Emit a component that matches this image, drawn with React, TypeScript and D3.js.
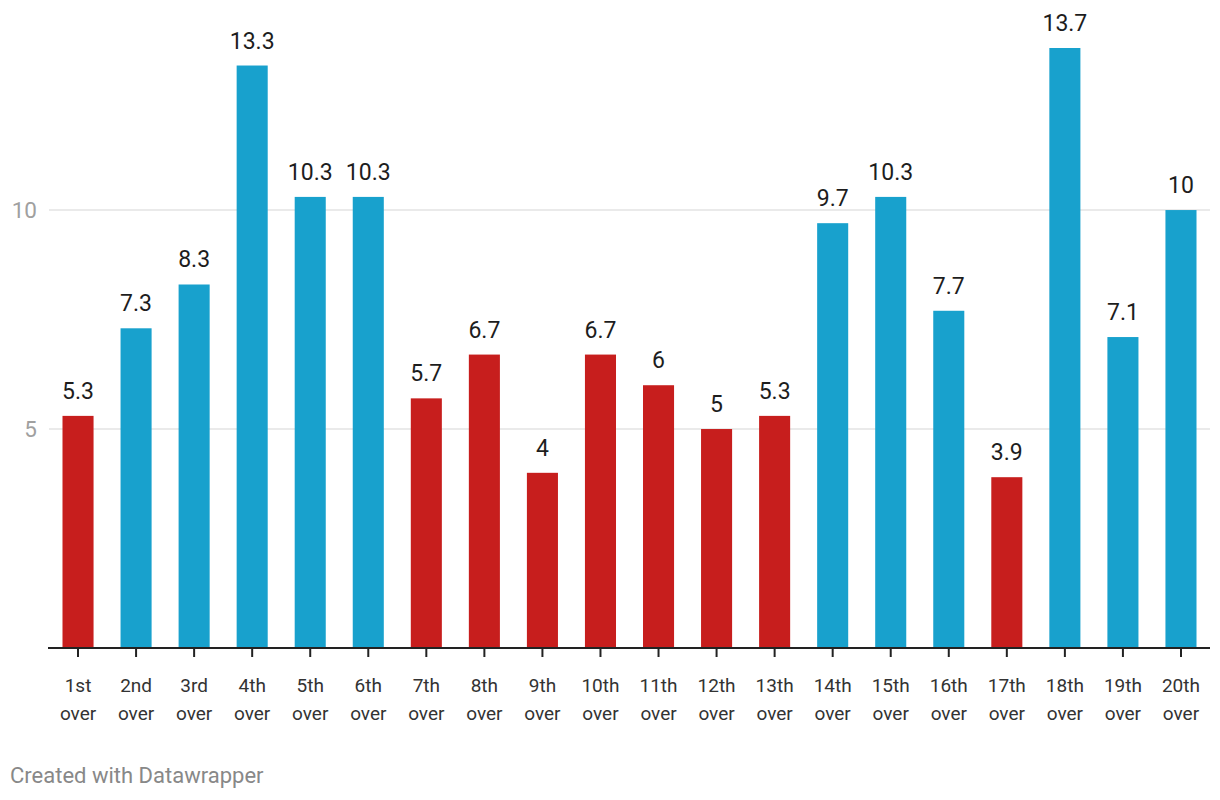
import React from "react";
import * as d3 from "d3";

const categories = ["1st", "2nd", "3rd", "4th", "5th", "6th", "7th", "8th", "9th", "10th", "11th", "12th", "13th", "14th", "15th", "16th", "17th", "18th", "19th", "20th"];
const values = [5.3, 7.3, 8.3, 13.3, 10.3, 10.3, 5.7, 6.7, 4, 6.7, 6, 5, 5.3, 9.7, 10.3, 7.7, 3.9, 13.7, 7.1, 10];
const groups = ["red", "blue", "blue", "blue", "blue", "blue", "red", "red", "red", "red", "red", "red", "red", "blue", "blue", "blue", "red", "blue", "blue", "blue"];
const yTicks = [5, 10];

const colors: Record<string, string> = { red: "#c71e1d", blue: "#18a1cd" };

export default function App() {
  const W = 1220, H = 800;
  const x = d3.scaleBand<string>().domain(categories).range([49, 1210]).paddingInner(0.465).paddingOuter(0.2325);
  const y = d3.scaleLinear().domain([0, 13.7]).range([648, 48]);
  const font = "Roboto, sans-serif";
  return (
    <svg width={W} height={H} style={{ position: "absolute", left: 0, top: 0, background: "#fff" }} fontFamily={font}>
      {yTicks.map((t) => (
        <g key={t}>
          <line x1={49} x2={1210} y1={y(t)} y2={y(t)} stroke="#e3e3e3" strokeWidth={1.5} />
          <text x={37} y={y(t)} dy="0.35em" textAnchor="end" fontSize={22.5} fill="#a0a0a0">{t}</text>
        </g>
      ))}
      {categories.map((c, i) => (
        <g key={c}>
          <rect x={x(c)} y={y(values[i])} width={x.bandwidth()} height={y(0) - y(values[i])} fill={colors[groups[i]]} />
          <text x={(x(c) as number) + x.bandwidth() / 2} y={y(values[i]) - 17} textAnchor="middle" fontSize={23} fill="#1d1d1d">{values[i]}</text>
          <line x1={(x(c) as number) + x.bandwidth() / 2} x2={(x(c) as number) + x.bandwidth() / 2} y1={648} y2={657} stroke="#222" strokeWidth={2} />
          <text x={(x(c) as number) + x.bandwidth() / 2} y={692} textAnchor="middle" fontSize={19} fill="#333">{c}</text>
          <text x={(x(c) as number) + x.bandwidth() / 2} y={720} textAnchor="middle" fontSize={19} fill="#333">over</text>
        </g>
      ))}
      <line x1={48} x2={1210} y1={648} y2={648} stroke="#222" strokeWidth={2} />
      <text x={10} y={783} fontSize={22} fill="#888">Created with Datawrapper</text>
    </svg>
  );
}
